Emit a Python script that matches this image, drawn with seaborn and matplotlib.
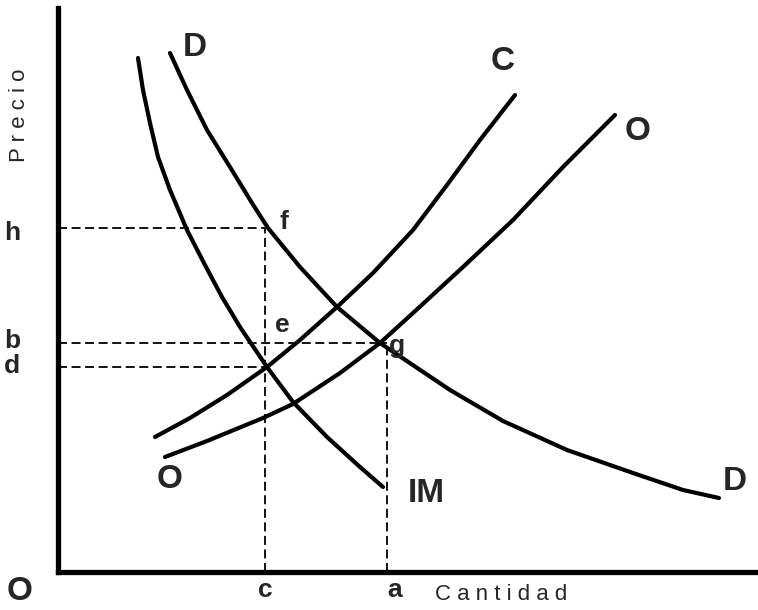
import seaborn as sns
import matplotlib.pyplot as plt

# curve points (cantidad, precio)
d_q = [112, 129, 149, 172, 194, 210, 242, 279, 322, 392, 445, 509, 575, 625, 661]
d_p = [519, 482, 442, 405, 369, 344, 305, 265, 229, 182, 151, 122, 99, 82, 74]
im_q = [80, 85, 92, 100, 112, 129, 147, 164, 182, 209, 235, 269, 302, 325]
im_p = [514, 482, 449, 415, 382, 342, 307, 275, 245, 205, 170, 135, 105, 85]
c_q = [97, 132, 169, 209, 242, 279, 315, 355, 389, 422, 457]
c_p = [135, 154, 177, 205, 232, 265, 299, 342, 387, 432, 477]
o_q = [107, 149, 205, 235, 282, 322, 355, 405, 455, 505, 557]
o_p = [115, 131, 154, 168, 199, 229, 259, 305, 352, 405, 457]

# reference levels
q_c, q_a = 207, 329
p_h, p_b, p_d = 344, 229, 205

sns.set_theme(style="ticks")
plt.rcParams['font.family'] = ['Liberation Sans', 'DejaVu Sans']

fig = plt.figure(figsize=(7.58, 6.10), dpi=100)
ax = fig.add_axes([58 / 758, 38 / 610, 700 / 758, 564 / 610])
ax.set_xlim(0, 700)
ax.set_ylim(0, 564)

for q, p in [(d_q, d_p), (im_q, im_p), (c_q, c_p), (o_q, o_p)]:
    sns.lineplot(x=q, y=p, ax=ax, sort=False, color='black', lw=3.0,
                 estimator=None, solid_capstyle='round', solid_joinstyle='round')

dash = dict(color='black', lw=1.3, dashes=(5, 2.5))
ax.plot([0, q_c], [p_h, p_h], **dash)
ax.plot([q_c, q_c], [0, p_h], **dash)
ax.plot([0, q_a], [p_b, p_b], **dash)
ax.plot([q_a, q_a], [0, p_b], **dash)
ax.plot([0, q_c], [p_d, p_d], **dash)

sns.despine(ax=ax)
for s in ['left', 'bottom']:
    ax.spines[s].set_linewidth(3.8)
    ax.spines[s].set_color('black')
ax.set_xticks([])
ax.set_yticks([])

big = dict(fontsize=24, fontweight='bold', ha='center', va='center', clip_on=False)
mid = dict(fontsize=19, fontweight='bold', ha='center', va='center', clip_on=False)
ax.text(137, 524, 'D', **big)
ax.text(445, 510, 'C', **big)
ax.text(580, 440, 'O', **big)
ax.text(677, 90, 'D', **big)
ax.text(368, 79, 'IM', **big)
ax.text(112, 92, 'O', **big)
ax.text(226, 350, 'f', **mid)
ax.text(224, 247, 'e', **mid)
ax.text(339, 226, 'g', **mid)
ax.text(-46, 339, 'h', **mid)
ax.text(-46, 231, 'b', **mid)
ax.text(-46, 206, 'd', **mid)
ax.text(-38, -20, 'O', **big)
ax.text(q_c, -18, 'c', **mid)
ax.text(q_a + 8, -18, 'a', **mid)
ax.text(443, -22, 'C a n t i d a d', fontsize=16, ha='center', va='center', clip_on=False)
ax.text(-38, 457, 'P r e c i o', fontsize=16, rotation=90, ha='center', va='center', clip_on=False)

fig.savefig('out.png', dpi=100)
